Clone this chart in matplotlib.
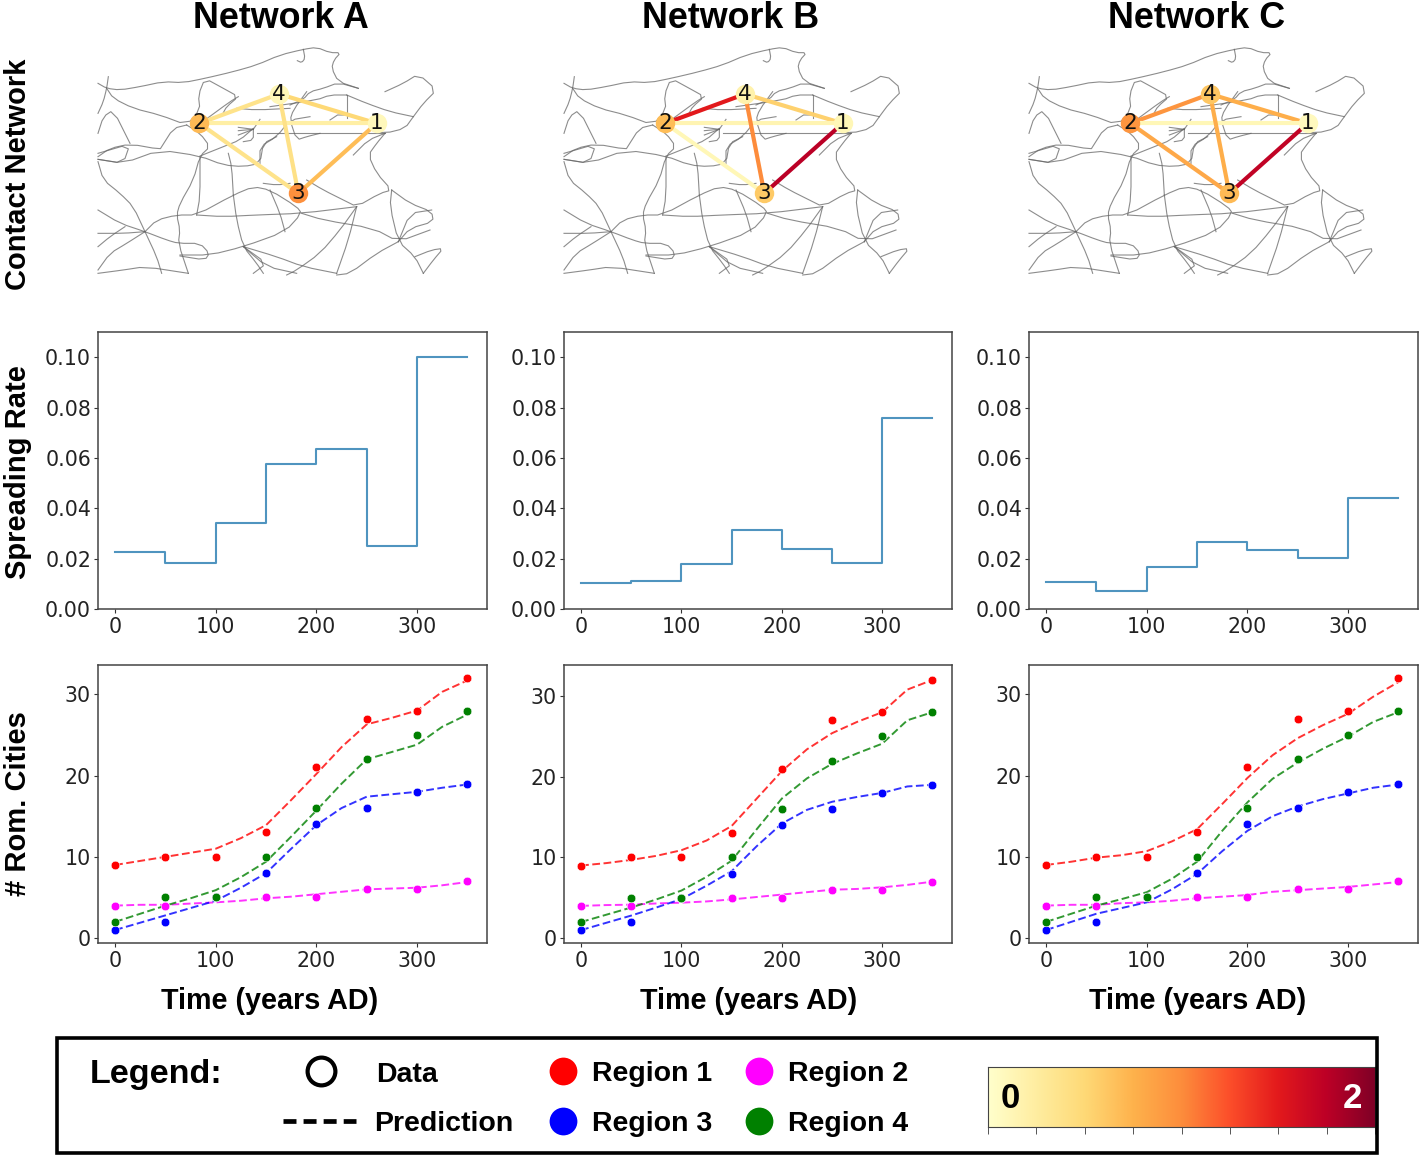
import matplotlib
matplotlib.use('Agg')
import matplotlib.pyplot as plt
import numpy as np
from matplotlib.patches import Rectangle

W, H = 1424, 1156
cmap = plt.get_cmap('YlOrRd')

networks = ['Network A', 'Network B', 'Network C']
row_labels = ['Contact Network', 'Spreading Rate', '# Rom. Cities']
times = [0, 50, 100, 150, 200, 250, 300, 350]
pred_times = [0, 25, 50, 75, 100, 125, 150, 175, 200, 225, 250, 275, 300, 325, 350]

# spreading rate per network, last value repeated by the step
rate_a = [0.0227, 0.0183, 0.0343, 0.0574, 0.0634, 0.0251, 0.100, 0.100]
rate_b = [0.0103, 0.0110, 0.0180, 0.0315, 0.0240, 0.0183, 0.076, 0.076]
rate_c = [0.0107, 0.0073, 0.0165, 0.0265, 0.0235, 0.0203, 0.044, 0.044]

# observed number of cities, same for all networks
data_r1 = [9, 10, 10, 13, 21, 27, 28, 32]
data_r2 = [4, 4, 5, 5, 5, 6, 6, 7]
data_r3 = [1, 2, 5, 8, 14, 16, 18, 19]
data_r4 = [2, 5, 5, 10, 16, 22, 25, 28]

pred_a_r1 = [9, 9.5, 10, 10.5, 11, 12.3, 13.9, 17, 20.2, 23.5, 26.3, 27.1, 28, 30.3, 31.7]
pred_a_r2 = [4, 4.1, 4.1, 4.25, 4.4, 4.6, 4.9, 5.1, 5.4, 5.7, 6, 6.1, 6.2, 6.5, 6.9]
pred_a_r3 = [1, 1.9, 2.8, 3.7, 4.6, 6.2, 8, 11, 13.9, 16, 17.4, 17.7, 18, 18.5, 18.9]
pred_a_r4 = [2, 3, 4, 4.9, 5.9, 7.5, 9.4, 12.5, 15.7, 19, 22, 22.9, 23.8, 26, 27.5]

pred_b_r1 = [9, 9.3, 9.7, 10.2, 10.9, 12.1, 13.9, 17.3, 20.7, 23.4, 25.4, 26.8, 28, 30.8, 32]
pred_b_r2 = [4, 4.1, 4.15, 4.3, 4.4, 4.55, 4.8, 5.1, 5.4, 5.7, 6, 6.1, 6.3, 6.6, 7]
pred_b_r3 = [1, 1.9, 2.8, 3.8, 4.85, 6.5, 8.3, 11.4, 14.2, 15.9, 16.9, 17.5, 18, 18.8, 19]
pred_b_r4 = [2, 2.9, 3.8, 4.8, 5.9, 7.6, 9.6, 13.5, 17.3, 19.8, 21.6, 22.9, 24.1, 27, 28]

pred_c_r1 = [9, 9.4, 9.9, 10.2, 10.7, 11.9, 13.4, 16.5, 19.7, 22.5, 24.6, 26.2, 27.6, 29.7, 31.5]
pred_c_r2 = [4, 4.1, 4.1, 4.3, 4.4, 4.6, 4.9, 5.1, 5.3, 5.7, 5.9, 6.1, 6.3, 6.6, 6.9]
pred_c_r3 = [1, 2, 3, 3.7, 4.4, 6, 7.9, 10.7, 13.2, 15, 16.2, 17.1, 17.8, 18.5, 18.9]
pred_c_r4 = [2, 3, 4, 4.8, 5.65, 7.3, 9.4, 13.2, 16.7, 19.6, 21.6, 23.3, 24.8, 26.6, 27.8]

# contact network: node values and edge values on the 0-2 colour scale
node_ids = ['1', '2', '3', '4']
node_x = [860, 328, 625, 567]
node_y = [250, 250, 460, 162]
edge_pairs = [(1, 3), (3, 0), (1, 0), (1, 2), (3, 2), (0, 2)]
nodes_a = [0.1, 0.7, 0.98, 0.12]
nodes_b = [0.12, 0.68, 0.6, 0.18]
nodes_c = [0.08, 0.95, 0.7, 0.62]
edges_a = [0.38, 0.5, 0.22, 0.38, 0.4, 0.68]
edges_b = [1.5, 0.55, 0.15, 0.12, 1.0, 1.75]
edges_c = [0.95, 0.78, 0.12, 0.82, 0.78, 1.72]

# road network
roads = [
    [(24,130),(50,145),(90,150),(150,140),(220,125),(280,128),(345,115),(430,95),(500,75),(570,45),(640,28),(680,22),(720,38),(752,38),(732,60),(725,85),(745,125),(805,145)],
    [(640,28),(645,55),(635,68),(622,62)],
    [(805,145),(745,128),(700,145),(660,155),(640,178),(600,195)],
    [(50,145),(70,175),(130,205),(210,225),(290,255),(330,210),(325,165),(345,115),(400,145),(445,170),(410,200),(400,218)],
    [(445,170),(420,185),(345,240)],
    [(885,155),(940,130),(985,102),(1040,150),(1000,190),(970,230),(945,265),(885,280),(840,270)],
    [(770,165),(830,190),(900,215),(970,230)],
    [(770,165),(770,235)],
    [(500,280),(600,280),(700,280),(800,280),(885,280)],
    [(290,255),(250,265),(215,320),(210,328),(120,312),(60,325),(24,350)],
    [(24,340),(120,312),(100,370),(24,358)],
    [(24,358),(100,370),(210,330),(330,348),(400,375),(460,380),(510,370),(520,310),(560,290)],
    [(330,348),(400,320),(450,300),(490,265)],
    [(445,262),(490,268)], [(445,272),(490,268)], [(445,285),(490,268)], [(510,238),(490,268)],
    [(490,268),(490,300),(460,305)],
    [(290,255),(330,280),(360,320),(330,348),(310,420),(270,490),(260,525),(270,570),(265,610),(295,700)],
    [(24,365),(40,420),(90,460),(130,500),(165,575),(200,650),(215,700)],
    [(24,510),(90,550),(165,575),(230,600),(265,610),(330,610),(358,640),(345,660),(270,648)],
    [(24,580),(100,580),(165,575)],
    [(24,620),(60,590),(105,560)],
    [(24,690),(60,640),(110,610),(165,575)],
    [(165,575),(200,540),(260,525),(320,525),(430,465),(490,440),(540,450),(620,500),(635,520),(585,575),(460,620),(360,645),(270,645)],
    [(320,525),(330,470),(330,350)],
    [(320,525),(400,530),(500,525),(635,520),(800,500)],
    [(430,465),(425,380),(415,340)],
    [(430,465),(440,540),(460,620),(500,670),(520,700)],
    [(540,450),(570,520),(585,575)],
    [(635,520),(700,540),(850,565),(925,605),(1020,570)],
    [(650,420),(700,450),(760,480),(800,500),(870,460),(905,450),(860,400),(835,345),(860,310),(885,280)],
    [(800,500),(750,570),(690,640),(620,690),(590,705)],
    [(800,500),(775,600),(740,700)],
    [(905,450),(900,500),(925,605),(975,650),(1000,700)],
    [(905,450),(960,490),(1025,515),(1030,545),(960,565),(925,605)],
    [(925,605),(960,520),(1025,510)],
    [(925,605),(860,640),(780,700),(740,705)],
    [(975,650),(1025,630),(1060,625),(1030,660),(1000,700)],
    [(460,620),(560,650),(640,680),(740,700)],
    [(460,620),(530,680),(620,700)],
    [(460,620),(530,670),(490,700)],
    [(24,700),(100,690),(165,680),(295,700)],
    [(650,155),(610,210),(600,240),(620,300),(650,290),(690,280)],
    [(540,200),(680,180),(720,165),(770,165)],
    [(440,205),(500,210),(600,205)],
    [(510,370),(510,320),(560,290),(600,240),(660,230)],
    [(24,220),(40,185),(50,145),(55,110)],
    [(24,280),(40,230),(70,210),(120,310)],
    [(790,345),(835,300),(885,280)],
    [(520,430),(560,435),(600,430)],
    [(720,240),(750,220),(830,240)],
]

col_left = [98, 564, 1029]
col_right = [487, 952, 1418]
map_left = [90, 556, 1021]
rates = [rate_a, rate_b, rate_c]
preds = [
    [pred_a_r1, pred_a_r2, pred_a_r3, pred_a_r4],
    [pred_b_r1, pred_b_r2, pred_b_r3, pred_b_r4],
    [pred_c_r1, pred_c_r2, pred_c_r3, pred_c_r4],
]
datas = [data_r1, data_r2, data_r3, data_r4]
region_colors = ['red', 'magenta', 'blue', 'green']
all_nodes = [nodes_a, nodes_b, nodes_c]
all_edges = [edges_a, edges_b, edges_c]
count_ylims = [(-0.6, 33.6), (-0.6, 33.85), (-0.6, 33.6)]

fig = plt.figure(figsize=(W / 100, H / 100), dpi=100)


def box(left, top, right, bottom):
    return [left / W, 1 - bottom / H, (right - left) / W, (bottom - top) / H]


def style_axes(ax):
    for s in ax.spines.values():
        s.set_color('#444444')
        s.set_linewidth(1.1)
    ax.tick_params(labelsize=14.8, length=3, width=0.8, color='#333333', labelcolor='#222222')
    ax.tick_params(axis='x', pad=2.5)
    ax.tick_params(axis='y', pad=2)
    ax.set_xlim(-17, 369.5)
    ax.set_xticks([0, 100, 200, 300])


def soften(road):
    # round the corners of a traced road a little
    if len(road) < 3:
        return road
    pts = [road[0]]
    for p, q in zip(road[:-1], road[1:]):
        pts.append((0.75 * p[0] + 0.25 * q[0], 0.75 * p[1] + 0.25 * q[1]))
        pts.append((0.25 * p[0] + 0.75 * q[0], 0.25 * p[1] + 0.75 * q[1]))
    pts.append(road[-1])
    return pts


for i in range(3):
    # map row
    ax = fig.add_axes(box(map_left[i], 40, map_left[i] + 360, 280))
    ax.set_xlim(0, 1080)
    ax.set_ylim(720, 0)
    ax.axis('off')
    for road in roads:
        xs, ys = zip(*soften(road))
        ax.plot(xs, ys, color='#666666', lw=0.8, alpha=0.75, zorder=1)
    for (a, b), v in zip(edge_pairs, all_edges[i]):
        ax.plot([node_x[a], node_x[b]], [node_y[a], node_y[b]], color=cmap(v / 2), lw=3.0, zorder=2,
                solid_capstyle='butt')
    for k in range(4):
        ax.plot(node_x[k], node_y[k], 'o', ms=14, mew=0, color=cmap(all_nodes[i][k] / 2), zorder=3)
        ax.text(node_x[k], node_y[k], node_ids[k], ha='center', va='center', fontsize=15.5,
                color='#111111', zorder=4)

    # spreading rate row
    ax = fig.add_axes(box(col_left[i], 332, col_right[i], 609))
    ax.step(times, rates[i], where='post', color='#4f94bf', lw=1.5)
    style_axes(ax)
    ax.set_ylim(0, 0.11)
    ax.set_yticks([0, 0.02, 0.04, 0.06, 0.08, 0.10])
    ax.set_yticklabels(['0.00', '0.02', '0.04', '0.06', '0.08', '0.10'])

    # city count row
    ax = fig.add_axes(box(col_left[i], 665, col_right[i], 943))
    for d, p, c in zip(datas, preds[i], region_colors):
        ax.plot(pred_times, p, color=c, lw=1.4, ls=(0, (4, 1.8)), alpha=0.8, zorder=2)
        ax.plot(times, d, 'o', color=c, ms=6.2, mec='white', mew=0.4, zorder=3)
    style_axes(ax)
    ax.set_ylim(*count_ylims[i])
    ax.set_yticks([0, 10, 20, 30])

# everything else is placed in pixels on a full-figure overlay
ov = fig.add_axes([0, 0, 1, 1], zorder=10)
ov.set_xlim(0, W)
ov.set_ylim(H, 0)
ov.axis('off')
ov.patch.set_alpha(0)
bold = dict(family=['Liberation Sans', 'DejaVu Sans'], fontweight='bold', ha='center', va='center', color='black')

for x, name in zip([281, 731, 1197], networks):
    ov.text(x, 18, name, fontsize=25.8, **bold)
for x in [270, 749, 1198]:
    ov.text(x, 1001, 'Time (years AD)', fontsize=20.7, **bold)
for y, name in zip([174, 472, 804], row_labels):
    ov.text(18, y, name, fontsize=21.0, rotation=90, **bold)

# legend box
ov.add_patch(Rectangle((57, 1038), 1320, 115, fill=False, ec='black', lw=2.6))
ov.text(156, 1074, 'Legend:', fontsize=24.6, **bold)
ov.plot(321, 1071, 'o', ms=20, mfc='white', mec='black', mew=3)
ov.plot([283, 356], [1121, 1121], color='black', lw=3.4, ls=(0, (2.75, 1.5)))
ov.text(407, 1075, 'Data', fontsize=20.5, **bold)
ov.text(444, 1124, 'Prediction', fontsize=20.5, **bold)
legend_x = [563, 759, 563, 759]
legend_y = [1071, 1071, 1121, 1121]
region_names = ['Region 1', 'Region 2', 'Region 3', 'Region 4']
for x, y, c, name in zip(legend_x, legend_y, region_colors, region_names):
    ov.plot(x, y, 'o', ms=20, mew=0, color=c)
    ov.text(x + 29, y + 3, name, fontsize=20.5, **{**bold, 'ha': 'left'})

# colour bar
cax = fig.add_axes(box(988, 1067, 1375, 1127), zorder=11)
cax.imshow(np.linspace(0, 1, 256)[None, :], cmap=cmap, aspect='auto', extent=[0, 8, 0, 1])
cax.set_yticks([])
cax.set_xticks(range(9))
cax.set_xticklabels([])
cax.tick_params(length=5, width=0.7, color='#555555')
for s in cax.spines.values():
    s.set_color('#444444')
    s.set_linewidth(0.8)
ov.set_zorder(12)
ov.text(1010, 1099, '0', fontsize=25, **bold)
ov.text(1352, 1099, '2', fontsize=25, **{**bold, 'color': 'white'})

fig.savefig('out.png', dpi=100)
